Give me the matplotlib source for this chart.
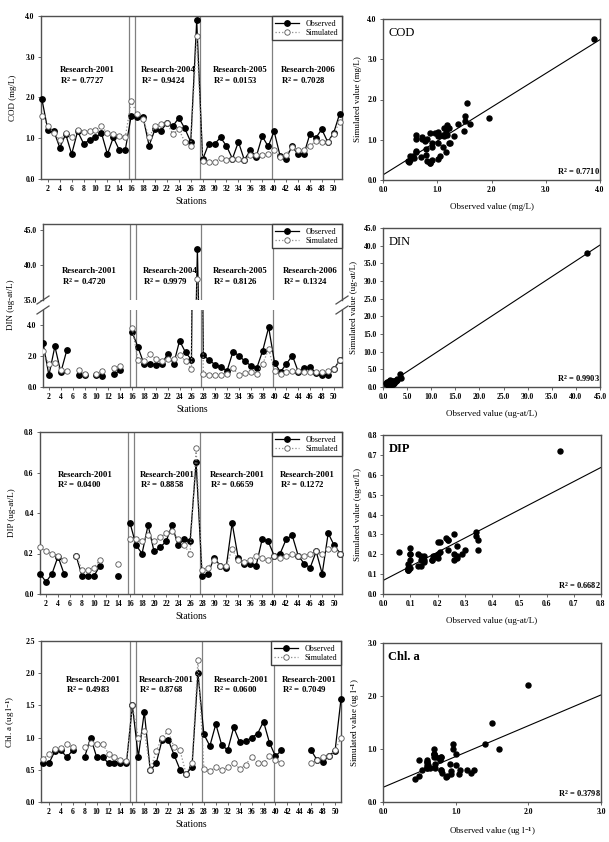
import numpy as np
import matplotlib
matplotlib.use('Agg')
import matplotlib.pyplot as plt
from matplotlib.lines import Line2D

plt.rcParams['font.family'] = ['Liberation Serif', 'DejaVu Serif']
plt.rcParams['font.weight'] = 'bold'
plt.rcParams['mathtext.fontset'] = 'custom'
plt.rcParams['mathtext.rm'] = 'Liberation Serif'
plt.rcParams['mathtext.bf'] = 'Liberation Serif:bold'
plt.rcParams['mathtext.default'] = 'bf'

nan = np.nan
stations = np.arange(1, 52)
xticks = np.arange(2, 51, 2)
separators = [15.6, 16.6, 27.6, 39.7]

# ---- data ----
cod_obs = [1.96, 1.20, 1.18, 0.77, 1.10, 0.61, 1.17, 0.87, 0.95, 1.02,
           1.13, 0.61, 1.02, 0.71, 0.71, 1.55, 1.51, 1.51, 0.82, 1.22,
           1.18, 1.38, 1.30, 1.50, 1.24, 0.91, 3.89, 0.48, 0.86, 0.86,
           1.02, 0.81, 0.50, 0.91, 0.47, 0.70, 0.55, 1.05, 0.80, 1.17,
           0.57, 0.50, 0.80, 0.61, 0.61, 1.10, 1.01, 1.22, 0.91, 1.13, 1.60]
cod_sim = [1.55, 1.30, 1.13, 0.96, 1.13, 1.02, 1.20, 1.16, 1.17, 1.20,
           1.30, 1.12, 1.10, 1.06, 1.02, 1.91, 1.60, 1.47, 1.02, 1.30,
           1.36, 1.38, 1.10, 1.22, 0.91, 0.81, 3.50, 0.44, 0.41, 0.42,
           0.52, 0.47, 0.50, 0.50, 0.46, 0.58, 0.60, 0.60, 0.62, 0.70,
           0.55, 0.60, 0.78, 0.72, 0.70, 0.81, 0.93, 0.91, 0.91, 1.10, 1.40]

din_obs = [2.82, 0.75, 2.61, 0.94, 2.35, nan, 0.79, 0.75, nan, 0.75,
           0.68, nan, 0.83, 1.07, nan, 3.53, 2.55, 1.48, 1.48, 1.43,
           1.48, 2.12, 1.48, 2.97, 2.22, 1.75, 42.3, 2.05, 1.71, 1.43,
           1.26, 1.05, 2.27, 2.01, 1.65, 1.37, 1.22, 2.33, 3.83, 1.54,
           0.96, 1.50, 2.01, 0.96, 1.22, 1.28, 0.88, 0.75, 0.79, 1.15, 1.75]
din_sim = [2.29, 1.45, 1.56, 1.07, 1.00, nan, 1.07, 0.83, nan, 0.86,
           1.03, nan, 1.22, 1.33, nan, 3.79, 1.73, 1.65, 2.12, 1.80,
           1.69, 1.80, 1.80, 2.05, 1.65, 1.16, 38.0, 0.83, 0.79, 0.79,
           0.75, 0.86, 1.22, 0.75, 0.88, 0.94, 0.83, 1.48, 2.44, 1.00,
           0.86, 0.94, 1.00, 1.00, 0.94, 0.98, 0.98, 0.94, 1.03, 1.15, 1.73]

dip_obs = [0.10, 0.06, 0.10, 0.185, 0.10, nan, 0.19, 0.09, 0.09, 0.09,
           0.14, nan, nan, 0.09, nan, 0.35, 0.24, 0.20, 0.34, 0.21,
           0.23, 0.26, 0.34, 0.24, 0.27, 0.26, 0.65, 0.09, 0.10, 0.18,
           0.14, 0.13, 0.35, 0.18, 0.15, 0.15, 0.14, 0.27, 0.26, 0.19,
           0.20, 0.27, 0.29, 0.19, 0.15, 0.13, 0.21, 0.10, 0.30, 0.24, 0.20]
dip_sim = [0.23, 0.21, 0.20, 0.19, 0.17, nan, 0.19, 0.12, 0.12, 0.13,
           0.17, nan, nan, 0.15, nan, 0.27, 0.27, 0.26, 0.29, 0.26,
           0.28, 0.30, 0.31, 0.27, 0.24, 0.20, 0.72, 0.12, 0.13, 0.17,
           0.14, 0.14, 0.22, 0.17, 0.16, 0.17, 0.19, 0.18, 0.17, 0.19,
           0.18, 0.19, 0.20, 0.19, 0.19, 0.20, 0.21, 0.20, 0.22, 0.22, 0.20]

chl_obs = [0.60, 0.60, 0.79, 0.80, 0.70, 0.80, nan, 0.70, 1.00, 0.70,
           0.70, 0.60, 0.60, 0.60, 0.60, 1.50, 0.70, 1.40, 0.49, 0.60,
           0.97, 0.97, 0.73, 0.50, 0.44, 0.54, 2.00, 1.05, 0.87, 1.21,
           0.88, 0.81, 1.16, 0.93, 0.94, 1.00, 1.06, 1.25, 0.92, 0.71,
           0.80, nan, nan, nan, nan, 0.80, 0.65, 0.62, 0.72, 0.79, 1.60]
chl_sim = [0.66, 0.75, 0.82, 0.84, 0.90, 0.85, nan, 0.85, 0.91, 0.90,
           0.90, 0.75, 0.70, 0.65, 0.64, 1.50, 1.00, 1.10, 0.50, 0.79,
           1.00, 1.10, 0.85, 0.80, 0.44, 0.60, 2.20, 0.52, 0.48, 0.54,
           0.49, 0.54, 0.60, 0.52, 0.58, 0.70, 0.60, 0.61, 0.71, 0.65,
           0.60, nan, nan, nan, nan, 0.61, 0.65, 0.70, 0.72, 0.80, 1.00]

cod_r2 = ['0.7727', '0.9424', '0.0153', '0.7028']
din_r2 = ['0.4720', '0.9979', '0.8126', '0.1324']
dip_r2 = ['0.0400', '0.8858', '0.6659', '0.1272']
chl_r2 = ['0.4983', '0.8768', '0.0600', '0.7049']
cod_titles = ['Research-2001', 'Research-2004', 'Research-2005', 'Research-2006']
other_titles = ['Research-2001'] * 4
scatter_r2 = ['0.7710', '0.9903', '0.6682', '0.3798']

# ---- layout helpers ----
W, H = 609, 842
fig = plt.figure(figsize=(W / 100, H / 100), dpi=100)
frame = '#505050'
MS = 3.9


def box(l, t, r, b):
    return [l / W, 1 - b / H, (r - l) / W, (b - t) / H]


def style(ax):
    for s in ax.spines.values():
        s.set_color(frame)
        s.set_linewidth(1.0)
    ax.tick_params(labelsize=5.5, length=2.5, width=0.6, color=frame, pad=2,
                   direction='out')


def series(ax, obs, sim, clip=False):
    ax.plot(stations, obs, '-', color='black', lw=0.9, marker='o', ms=MS,
            mfc='black', mec='black', clip_on=clip, zorder=3)
    ax.plot(stations, sim, ':', color='#8a8a8a', lw=0.9, marker='o', ms=MS,
            mfc='white', mec='#555555', mew=0.6, clip_on=clip, zorder=4)
    for s in separators:
        ax.axvline(s, color='#808080', lw=0.9, zorder=1)


def legend(ax):
    h_obs = Line2D([], [], color='black', lw=0.9, marker='o', ms=MS, mfc='black')
    h_sim = Line2D([], [], color='#8a8a8a', ls=':', lw=0.9, marker='o', ms=MS,
                   mfc='white', mec='#555555', mew=0.6)
    leg = ax.legend([h_obs, h_sim], ['Observed', 'Simulated'], loc='upper right',
                    borderaxespad=0, fancybox=False, edgecolor='#404040',
                    framealpha=1, handlelength=3, borderpad=0.45,
                    labelspacing=0.15, prop={'size': 5.8, 'weight': 'normal'})
    leg.get_frame().set_linewidth(1.0)


def labels(ax, titles, r2, xs, y1, y2):
    for t, r, x in zip(titles, r2, xs):
        ax.text(x, y1, t, fontsize=6.3, va='center', zorder=5)
        ax.text(x, y2, 'R$^{2}$ = ' + r, fontsize=6.3, va='center', zorder=5)


def station_axis(ax, xlim, xlabel_pad=3):
    ax.set_xlim(*xlim)
    ax.set_xticks(xticks)
    ax.set_xlabel('Stations', fontsize=7, labelpad=xlabel_pad)


def scatter(ax, obs, sim, lim, ticks, fmt, name, r2, xlabel, ylabel, name_bold):
    o = np.array(obs)
    s = np.array(sim)
    ok = ~np.isnan(o) & ~np.isnan(s)
    ax.plot(o[ok], s[ok], 'o', color='black', ms=3.6, clip_on=False, zorder=3)
    a, b = np.polyfit(o[ok], s[ok], 1)
    xx = np.array([0, lim])
    ax.plot(xx, a * xx + b, color='black', lw=0.8)
    ax.set_xlim(0, lim)
    ax.set_ylim(0, lim)
    ax.set_xticks(ticks)
    ax.set_yticks(ticks)
    ax.set_xticklabels([fmt % t for t in ticks])
    ax.set_yticklabels([fmt % t for t in ticks])
    ax.set_xlabel(xlabel, fontsize=6.5, labelpad=6)
    ax.set_ylabel(ylabel, fontsize=6.5, labelpad=4)
    ax.text(0.025, 0.95, name, transform=ax.transAxes, fontsize=9, va='top',
            fontweight='bold' if name_bold else 'normal')
    ax.text(1.0, 0.02, 'R$^{2}$ = ' + r2, transform=ax.transAxes, fontsize=6,
            ha='right', va='bottom')
    style(ax)


# ---- COD ----
ax = fig.add_axes(box(41, 16, 342, 179))
series(ax, cod_obs, cod_sim)
ax.set_ylim(0, 4)
ax.set_yticks([0, 1, 2, 3, 4])
ax.set_yticklabels(['0.0', '1.0', '2.0', '3.0', '4.0'])
station_axis(ax, (0.85, 51.4))
ax.set_ylabel('COD (mg/L)', fontsize=6.5, fontweight='normal', labelpad=6)
labels(ax, cod_titles, cod_r2, [4.1, 17.7, 29.7, 41.2], 2.67, 2.42)
legend(ax)
style(ax)

ax = fig.add_axes(box(383, 19, 600, 180))
scatter(ax, cod_obs, cod_sim, 4, [0, 1, 2, 3, 4], '%.1f', 'COD', scatter_r2[0],
        'Observed value (mg/L)', 'Simulated value (mg/L)', False)

# ---- DIN (broken axis) ----
lo = fig.add_axes(box(43, 310, 342, 387))
up = fig.add_axes(box(43, 224, 342, 300))
for a_ in (lo, up):
    series(a_, din_obs, din_sim, clip=True)
    a_.set_xlim(1.0, 51.35)
    style(a_)
lo.set_ylim(0, 4.94)
lo.set_yticks([0, 2, 4])
lo.set_yticklabels(['0.0', '2.0', '4.0'])
lo.spines['top'].set_visible(False)
station_axis(lo, (1.0, 51.35))
up.set_ylim(35, 45.9)
up.set_yticks([35, 40, 45])
up.set_yticklabels(['35.0', '40.0', '45.0'])
up.spines['bottom'].set_visible(False)
up.tick_params(axis='x', bottom=False, labelbottom=False)
labels(up, cod_titles, din_r2, [4.2, 17.8, 29.6, 41.4], 39.2, 37.6)
legend(up)
fig.text(0.012, 1 - 305 / H, 'DIN (ug-at/L)', rotation=90, fontsize=6.5,
         fontweight='normal', va='center', ha='left')
for xp in (43, 342):
    for yp in (300, 310):
        fig.add_artist(Line2D([(xp - 6) / W, (xp + 6) / W],
                              [1 - (yp + 4) / H, 1 - (yp - 4) / H],
                              color=frame, lw=0.9))

ax = fig.add_axes(box(383, 228, 600, 387))
scatter(ax, din_obs, din_sim, 45, np.arange(0, 46, 5), '%.1f', 'DIN', scatter_r2[1],
        'Observed value (ug-at/L)', 'Simulated value (ug-at/L)', False)

# ---- DIP ----
ax = fig.add_axes(box(40, 432, 342, 594))
series(ax, dip_obs, dip_sim)
ax.set_ylim(0, 0.8)
ax.set_yticks([0, 0.2, 0.4, 0.6, 0.8])
ax.set_yticklabels(['0.0', '0.2', '0.4', '0.6', '0.8'])
station_axis(ax, (1.0, 51.3))
ax.set_ylabel('DIP (ug-at/L)', fontsize=6.5, fontweight='normal', labelpad=6)
labels(ax, other_titles, dip_r2, [3.9, 17.7, 29.3, 41.0], 0.589, 0.54)
legend(ax)
style(ax)

ax = fig.add_axes(box(383, 435, 601, 594))
scatter(ax, dip_obs, dip_sim, 0.8, np.arange(0, 0.81, 0.1), '%.1f', 'DIP', scatter_r2[2],
        'Observed value (ug-at/L)', 'Simulated value (ug-at/L)', True)

# ---- Chl. a ----
ax = fig.add_axes(box(41, 641, 341, 802))
series(ax, chl_obs, chl_sim)
ax.set_ylim(0, 2.5)
ax.set_yticks([0, 0.5, 1.0, 1.5, 2.0, 2.5])
ax.set_yticklabels(['0.0', '0.5', '1.0', '1.5', '2.0', '2.5'])
station_axis(ax, (0.67, 51.0))
ax.set_ylabel('Chl. a (ug l$^{-1}$)', fontsize=6.5, fontweight='normal', labelpad=6)
labels(ax, other_titles, chl_r2, [4.9, 17.1, 29.6, 41.1], 1.90, 1.74)
legend(ax)
style(ax)

ax = fig.add_axes(box(383, 643, 601, 802))
scatter(ax, chl_obs, chl_sim, 3, [0, 1, 2, 3], '%.1f', 'Chl. a', scatter_r2[3],
        'Observed value (ug l$^{-1}$)', 'Simulated value (ug l$^{-1}$)', True)

fig.savefig('out.png', dpi=100, facecolor='white')
